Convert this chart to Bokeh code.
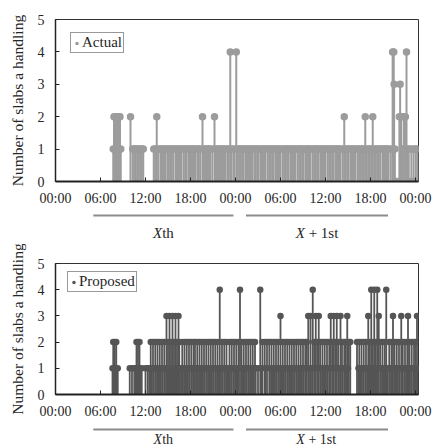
from bokeh.plotting import figure
from bokeh.models import ColumnDataSource, FixedTicker, Range1d
from bokeh.layouts import column
from bokeh.embed import file_html
from bokeh.resources import INLINE
from bokeh.core.properties import value

# ---------------- data ----------------
hour_ticks = [0, 6, 12, 18, 24, 30, 36, 42, 48]
tick_labels = ["00:00", "06:00", "12:00", "18:00", "00:00", "06:00", "12:00", "18:00", "00:00"]
y_ticks = [0, 1, 2, 3, 4, 5]

day_prefix = ["X", "X"]
day_suffix = ["th", "\u00a0+ 1st"]
day_start = [-1.3, 23.1]
day_end = [21.1, 45.8]

# Actual: event times (hours from 00:00 of day X) grouped by number of slabs
act_t0 = [45.4, 45.6, 47.3, 47.6, 47.9]
act_t1 = [7.7, 7.9, 8.1, 8.3, 8.5, 8.7,
          10.3, 10.5, 10.7, 10.9, 11.1, 11.3, 11.5, 11.7,
          13.1, 13.3, 13.7, 14.0, 14.2, 14.4, 14.6, 14.9, 15.1, 15.3, 15.5, 15.7, 16.0, 16.2,
          16.4, 16.6, 16.8, 17.1, 17.3, 17.5, 17.8, 18.0, 18.2, 18.4, 18.6, 18.9, 19.1, 19.3,
          19.8, 20.0, 20.2, 20.4, 20.6, 20.9, 21.4, 21.6, 21.8, 22.0, 22.2, 22.4, 22.6, 22.9,
          23.1, 23.5, 23.8, 24.3, 24.5, 24.7, 24.9, 25.1, 25.4, 25.6, 25.8, 26.0, 26.2, 26.5,
          26.7, 26.9, 27.1, 27.4, 27.6, 27.8, 28.0, 28.3, 28.5, 28.7, 28.9, 29.1, 29.4, 29.6,
          29.8, 30.0, 30.3, 30.5, 30.7, 30.9, 31.1, 31.4, 31.6, 31.8, 32.0, 32.3, 32.5, 32.7,
          32.9, 33.1, 33.4, 33.6, 33.8, 34.0, 34.3, 34.5, 34.7, 34.9, 35.1, 35.4, 35.6, 35.8,
          36.0, 36.3, 36.5, 36.7, 36.9, 37.1, 37.4, 37.6, 37.8, 38.0, 38.3, 38.7, 38.9, 39.1,
          39.4, 39.6, 39.8, 40.0, 40.3, 40.5, 40.7, 40.9, 41.1, 41.5, 41.7, 41.9, 42.1, 42.5,
          42.7, 42.9, 43.1, 43.3, 43.6, 43.8, 44.0, 44.2, 44.4, 44.7, 45.25, 46.25, 46.95,
          47.1, 47.45, 47.75, 48.05, 48.3]
act_t2 = [7.8, 8.0, 8.2, 8.4, 8.6, 10.0, 13.5, 19.6, 21.2, 38.5, 41.3, 42.3,
          45.85, 46.1, 46.45, 46.65]
act_t3 = [45.15, 45.95]
act_t4 = [23.3, 24.1, 44.95, 45.1, 46.8]

# Proposed
prop_t1 = [7.6, 7.8, 8.0, 8.3, 9.9, 10.2, 10.5, 10.7, 10.9, 11.1, 11.3, 11.5,
           12.0, 12.3, 12.5, 12.8, 13.1, 13.4, 13.7, 14.0, 14.3, 14.6, 14.9, 15.1, 15.3, 15.5,
           15.7, 15.9, 16.1, 16.3, 16.6, 16.8, 17.0, 17.3, 17.6, 17.9, 18.2, 18.5, 18.8, 19.0,
           19.3, 19.6, 19.9, 20.2, 20.5, 20.8, 21.1, 21.4, 21.7, 22.0, 22.3, 22.6, 22.9, 23.1,
           23.4, 23.7, 24.0, 24.3, 24.9, 25.2, 25.5, 25.8, 26.1, 26.4, 26.7, 27.0, 27.5, 28.0,
           28.6, 28.9, 29.2, 29.5, 29.8, 30.1, 30.4, 30.7, 31.0, 31.3, 31.6, 31.9, 32.2, 32.5,
           32.8, 33.1, 33.4, 33.8, 34.2, 34.6, 35.0, 35.4, 35.7, 36.0, 36.3, 36.6, 37.0, 37.4,
           37.8, 38.3, 38.6, 38.8, 39.0, 40.4, 40.7, 41.0, 41.3, 41.6, 41.8, 42.0, 42.4, 42.8,
           43.0, 43.4, 43.7, 44.0, 44.3, 44.6, 44.9, 45.3, 45.6, 45.9, 46.2, 46.5, 46.8, 47.1,
           47.4, 47.7, 47.9, 48.1, 48.3]
prop_t2 = [7.7, 7.9, 8.1, 10.8, 11.0, 11.2,
           12.7, 13.0, 13.3, 13.6, 13.9, 14.2, 14.5, 15.0, 15.4, 15.8, 16.2, 16.5, 16.9, 17.2,
           17.5, 17.8, 18.1, 18.4, 18.6, 18.9, 19.2, 19.5, 19.8, 20.1, 20.4, 20.7, 21.0, 21.3,
           21.6, 22.2, 22.5, 22.8, 23.2, 23.5, 23.8, 24.1, 24.4, 24.8, 25.1, 25.4, 25.7, 26.0,
           26.3, 26.6, 27.6, 27.9, 28.2, 28.5, 28.8, 29.1, 29.4, 29.7, 30.3, 30.6, 30.9, 31.2,
           31.5, 31.8, 32.1, 32.4, 32.7, 33.0, 33.3, 33.5, 34.5, 34.9, 35.3, 35.6, 35.9, 36.2,
           36.5, 36.9, 37.3, 37.7, 38.2, 38.5, 38.7, 39.1, 39.3, 40.2, 40.5, 40.8, 41.1, 41.4,
           41.9, 42.3, 42.7, 43.3, 43.6, 43.9, 44.5, 44.8, 45.2, 45.5, 45.8, 46.3, 46.6, 46.9,
           47.2, 47.5, 47.8, 48.0]
prop_t3 = [14.8, 15.2, 15.6, 16.0, 16.4, 30.0, 33.7, 34.0, 34.7, 35.1, 36.7, 37.1, 37.5,
           38.0, 38.9, 41.7, 43.1, 45.0, 46.1, 47.0, 48.2]
prop_t4 = [21.9, 24.6, 27.3, 34.3, 42.1, 42.5, 42.9, 44.1]

# ---------------- layout constants ----------------
FONT = "Liberation Serif"
TXT = "#262626"
W = 435
LEFT, RIGHT = 55, 17
X_END = 48.4
PX_PER_H = (W - LEFT - RIGHT) / X_END


def stems(groups):
    t, v = [], []
    for val, times in groups:
        t += times
        v += [val] * len(times)
    return ColumnDataSource(dict(t=t, v=v))


def chart(src, color, label, height, top, bottom, legend_xy, msize, lw):
    p = figure(width=W, height=height, x_range=Range1d(0, X_END), y_range=Range1d(0, 5),
               output_backend="svg", toolbar_location=None,
               min_border_left=LEFT, min_border_right=RIGHT,
               min_border_top=top, min_border_bottom=bottom)
    p.segment(x0="t", y0=0, x1="t", y1="v", source=src, line_color=color, line_width=lw)
    p.scatter(x="t", y="v", source=src, size=msize, fill_color=color, line_color=None,
              legend_label=label)
    p.xgrid.visible = False
    p.ygrid.visible = False
    p.outline_line_color = "#333333"
    p.outline_line_width = 1
    p.background_fill_color = "white"
    p.border_fill_color = "white"

    xa = p.xaxis[0]
    xa.ticker = FixedTicker(ticks=hour_ticks)
    xa.major_label_overrides = {t: s for t, s in zip(hour_ticks, tick_labels)}
    xa.major_tick_in = 4
    xa.major_tick_out = 0
    xa.minor_tick_line_color = None
    xa.axis_line_width = 2
    xa.axis_line_color = "#222222"
    xa.major_tick_line_color = "#222222"
    xa.major_label_standoff = 9
    xa.major_label_text_font = FONT
    xa.major_label_text_font_size = "14px"
    xa.major_label_text_color = TXT

    ya = p.yaxis[0]
    ya.ticker = FixedTicker(ticks=y_ticks)
    ya.major_tick_in = 4
    ya.major_tick_out = 0
    ya.minor_tick_line_color = None
    ya.axis_line_width = 1.5
    ya.axis_line_color = "#222222"
    ya.major_tick_line_color = "#222222"
    ya.major_label_standoff = 11
    ya.major_label_text_font = FONT
    ya.major_label_text_font_size = "14px"
    ya.major_label_text_color = TXT
    ya.axis_label = "Number of slabs a handling"
    ya.axis_label_text_font = FONT
    ya.axis_label_text_font_size = "15.5px"
    ya.axis_label_text_font_style = "normal"
    ya.axis_label_text_color = TXT
    ya.axis_label_standoff = 9

    lg = p.legend[0]
    lg.location = legend_xy
    lg.label_text_font = FONT
    lg.label_text_font_size = "15px"
    lg.label_text_color = TXT
    lg.border_line_color = "#333333"
    lg.border_line_width = 1
    lg.padding = 1
    lg.margin = 0
    lg.spacing = 0
    lg.glyph_width = 9
    lg.glyph_height = 14
    lg.label_standoff = 1
    lg.label_height = 14
    lg.background_fill_alpha = 1
    return p


def day_strip(height, bar_y, text_y, fsize):
    x0 = -LEFT / PX_PER_H
    x1 = X_END + RIGHT / PX_PER_H
    q = figure(width=W, height=height, x_range=Range1d(x0, x1), y_range=Range1d(height, 0),
               output_backend="svg", toolbar_location=None,
               min_border_left=0, min_border_right=0, min_border_top=0, min_border_bottom=0,
               x_axis_location=None, y_axis_location=None)
    q.xgrid.visible = False
    q.ygrid.visible = False
    q.outline_line_color = None
    centers = [(a + b) / 2 for a, b in zip(day_start, day_end)]
    q.segment(x0=day_start, y0=[bar_y] * 2, x1=day_end, y1=[bar_y] * 2,
              line_color="#8c8c8c", line_width=2)
    offs = [-1.2, -12.1]
    src = ColumnDataSource(dict(x=centers, y=[text_y] * 2, pre=day_prefix, suf=day_suffix, o=offs))
    q.text(x="x", y="y", text="pre", x_offset="o", source=src, text_align="right",
           text_baseline="middle", text_font=value(FONT), text_font_style="italic",
           text_font_size=fsize, text_color=TXT)
    q.text(x="x", y="y", text="suf", x_offset="o", source=src, text_align="left",
           text_baseline="middle", text_font=value(FONT),
           text_font_size=fsize, text_color=TXT)
    return q


src_act = stems([(0, act_t0), (1, act_t1), (2, act_t2), (3, act_t3), (4, act_t4)])
src_prop = stems([(1, prop_t1), (2, prop_t2), (3, prop_t3), (4, prop_t4)])

p1 = chart(src_act, "#9c9c9c", "Actual", 208, 19, 25, (15, 128), 7.5, 2.0)
s1 = day_strip(36, 7, 24, "15px")
p2 = chart(src_prop, "#555555", "Proposed", 177, 19, 25, (12, 102), 6.5, 1.8)
s2 = day_strip(26, 8, 18, "14px")

layout = column(p1, s1, p2, s2, spacing=0)
open("out.html", "w").write(file_html(layout, INLINE))
